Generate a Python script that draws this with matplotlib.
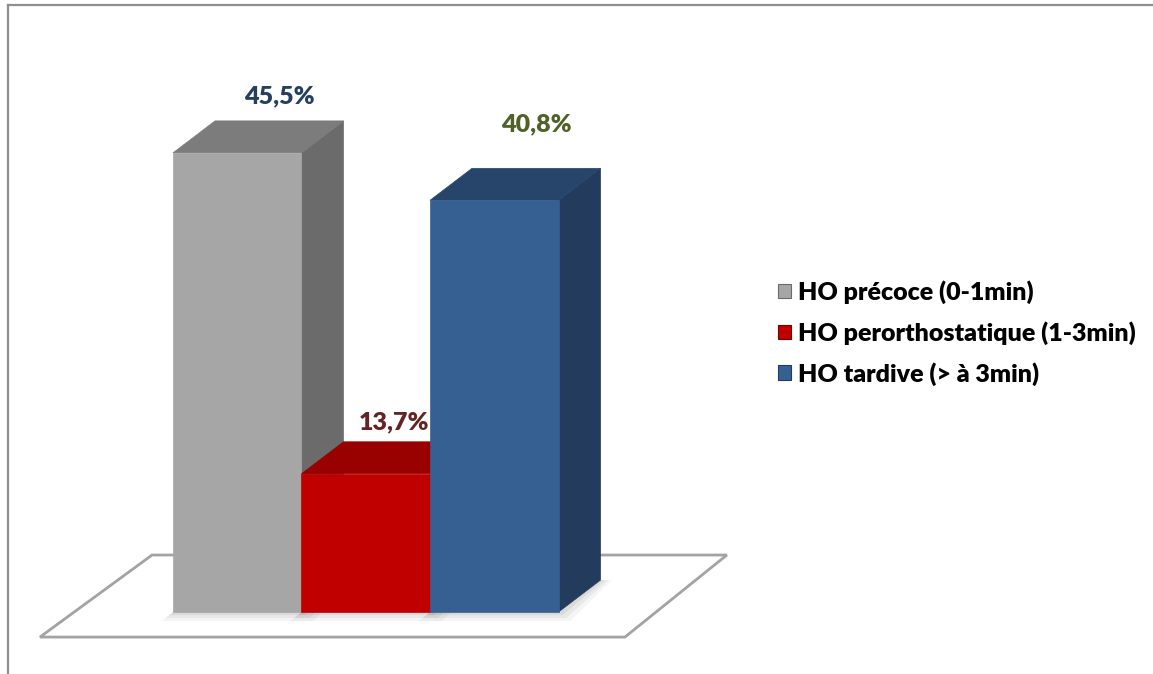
import numpy as np
import matplotlib.pyplot as plt
from matplotlib.patches import Polygon, Patch
from matplotlib.lines import Line2D

categories = ['HO précoce (0-1min)', 'HO perorthostatique (1-3min)', 'HO tardive (> à 3min)']
values = [45.5, 13.7, 40.8]
value_labels = ['45,5%', '13,7%', '40,8%']

front_colors = ['#a6a6a6', '#c00000', '#376092']
top_colors = ['#7c7c7c', '#990000', '#27456b']
side_colors = ['#6b6b6b', '#7a0000', '#233b5c']
label_colors = ['#243f60', '#632523', '#4f6228']

plt.rcParams['font.family'] = ['Lato', 'DejaVu Sans']

fig = plt.figure(figsize=(11.53, 6.74), dpi=100)
ax = fig.add_axes([0, 0, 1, 1])
ax.set_xlim(-1.346, 7.626)
ax.set_ylim(-6.14, 60.65)
ax.axis('off')

# depth offset of the 3d boxes, in axis units
dx, dy = 0.327, 3.17

# floor
floor = Polygon([(-1.035, -2.48), (3.517, -2.48), (4.31, 5.65), (-0.163, 5.65)],
                closed=True, facecolor='white', edgecolor='#a3a3a3', lw=2, zorder=1)
ax.add_patch(floor)

for i, v in enumerate(values):
    z = 2 + 2 * i
    # soft shadow at the foot of the bar
    for k, a in enumerate([0.06, 0.05, 0.04]):
        s = 0.03 * (k + 1)
        ax.add_patch(Polygon([(i - s, -0.3 * (k + 1)), (i + 1 + s, -0.3 * (k + 1)),
                              (i + 1 + dx + s, dy), (i + dx, dy)],
                             closed=True, facecolor='black', alpha=a, lw=0, zorder=1.5))
    side = Polygon([(i + 1, 0), (i + 1 + dx, dy), (i + 1 + dx, v + dy), (i + 1, v)],
                   closed=True, facecolor=side_colors[i], edgecolor=side_colors[i], lw=0.5, zorder=z)
    top = Polygon([(i, v), (i + 1, v), (i + 1 + dx, v + dy), (i + dx, v + dy)],
                  closed=True, facecolor=top_colors[i], edgecolor=top_colors[i], lw=0.5, zorder=z)
    ax.add_patch(side)
    ax.add_patch(top)
    ax.bar(i, v, width=1, align='edge', color=front_colors[i],
           edgecolor=front_colors[i], lw=0.5, zorder=z + 1)

# value labels above the boxes
label_nudge = [(0.0, 2.4), (-0.11, 1.9), (0.0, 4.4)]
for i, v in enumerate(values):
    ax.text(i + 0.5 + dx + label_nudge[i][0], v + dy + label_nudge[i][1], value_labels[i],
            ha='center', va='center', fontsize=18, fontweight='heavy',
            color=label_colors[i], zorder=10)

handles = [Patch(facecolor=front_colors[i], edgecolor=side_colors[i], lw=0.8)
           for i in range(len(categories))]
ax.legend(handles, categories, loc='center left', bbox_to_anchor=(778 / 1153, 1 - 333 / 674),
          bbox_transform=fig.transFigure, frameon=False,
          prop={'weight': 'heavy', 'size': 18}, handlelength=0.5, handleheight=0.5,
          handletextpad=0.3, labelspacing=0.68, borderpad=0, borderaxespad=0)

# chart border
fig.add_artist(Line2D([8 / 1153, 8 / 1153], [0, 1 - 5 / 674], color='#8f8f8f', lw=1.6))
fig.add_artist(Line2D([8 / 1153, 1], [1 - 5 / 674, 1 - 5 / 674], color='#8f8f8f', lw=1.6))

fig.savefig('out.png', dpi=100, facecolor='white')
